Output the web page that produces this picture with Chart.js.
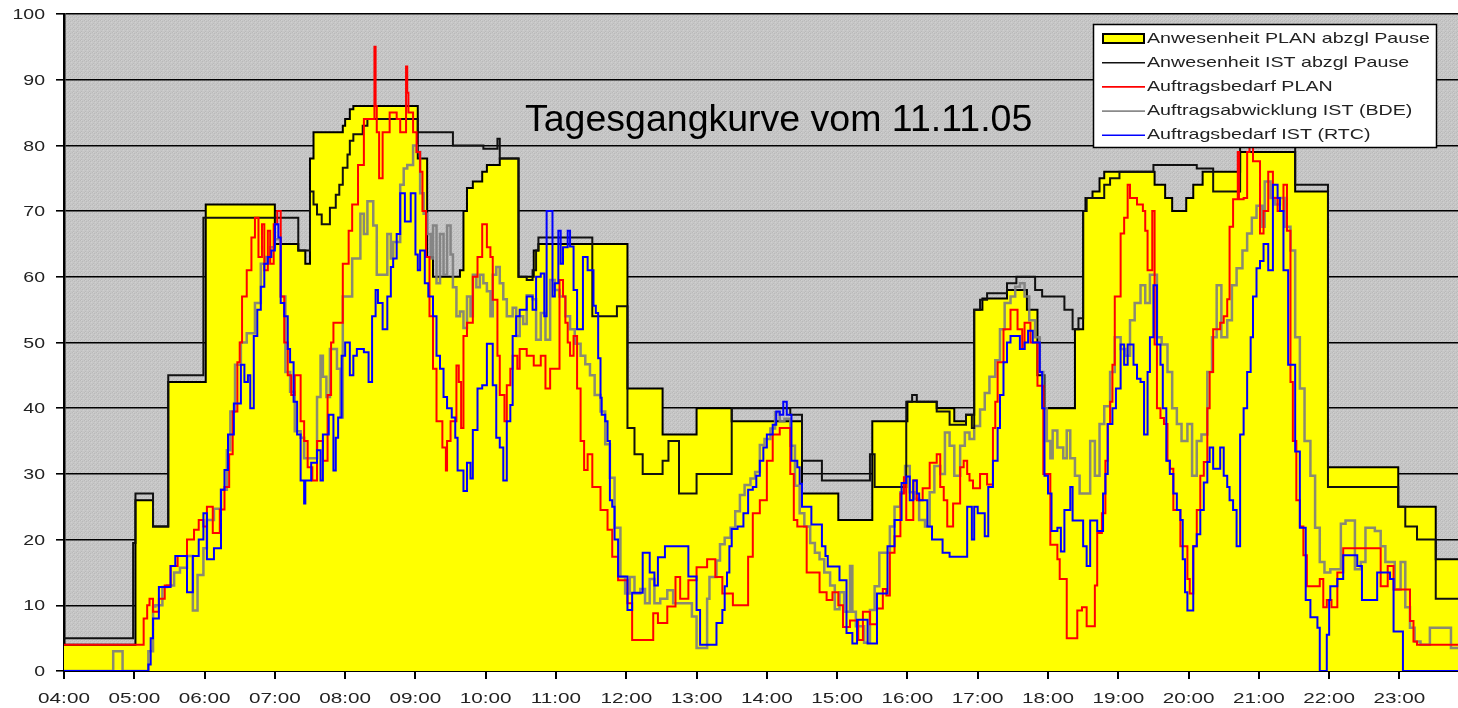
<!DOCTYPE html>
<html>
<head>
<meta charset="utf-8">
<title>Tagesgangkurve vom 11.11.05</title>
<script src="https://cdn.jsdelivr.net/npm/chart.js@4.4.1/dist/chart.umd.min.js"></script>
<style>
  html, body { margin: 0; padding: 0; background: #fff; }
  canvas { display: block; }
</style>
</head>
<body>
<canvas id="myChart" width="1458" height="708"></canvas>
<script>
// time values are minutes after midnight, values are persons
const hourLabels = ['04:00', '05:00', '06:00', '07:00', '08:00', '09:00', '10:00', '11:00', '12:00', '13:00',
    '14:00', '15:00', '16:00', '17:00', '18:00', '19:00', '20:00', '21:00', '22:00', '23:00'];
const valueLabels = ['0', '10', '20', '30', '40', '50', '60', '70', '80', '90', '100'];

const seriesNames = ['Anwesenheit PLAN abzgl Pause', 'Anwesenheit IST abzgl Pause', 'Auftragsbedarf PLAN',
    'Auftragsabwicklung IST (BDE)', 'Auftragsbedarf IST (RTC)'];

// Anwesenheit PLAN abzgl Pause (yellow area)
const planTime = [240, 301, 316, 329, 361, 420, 440, 446, 450, 453, 478, 480, 484, 487, 542, 550, 555, 578, 581, 584,
    589, 597, 601, 612, 628, 641, 645, 721, 751, 780, 810, 870, 901, 930, 960, 985, 1000, 1010, 1017, 1024,
    1045, 1062, 1071, 1077, 1103, 1110, 1112, 1118, 1124, 1128, 1171, 1180, 1186, 1198, 1204, 1212, 1244, 1291, 1319, 1379,
    1411, 1430];
const planVal = [4, 26, 22, 44, 71, 65, 64, 62, 78, 82, 83, 84, 85.5, 86, 78, 63, 60, 61, 70, 73.5,
    74.5, 76, 77, 78, 60, 64, 65, 43, 36, 40, 38, 27, 23, 38, 41, 40, 38, 39, 55, 56.7,
    58, 55, 45, 40, 52, 70, 72, 73, 75, 76, 74, 72, 70, 72, 74, 76, 79, 73, 31, 25,
    17, 17];

// Anwesenheit IST abzgl Pause (black)
const istTime = [240, 299, 301, 316, 329, 359, 440, 450, 453, 456, 460, 467, 472, 475, 478, 482, 484, 487, 495, 499,
    542, 572, 598, 610, 612, 628, 635, 640, 643, 645, 691, 712, 721, 727, 734, 751, 756, 765, 780, 810,
    860, 870, 887, 928, 932, 959, 964, 968, 985, 996, 1010, 1015, 1017, 1022, 1028, 1045, 1053, 1069, 1075, 1094,
    1101, 1106, 1110, 1113, 1128, 1133, 1141, 1170, 1207, 1221, 1244, 1291, 1319, 1379, 1385, 1395, 1411, 1430];
const istVal = [5, 19.5, 27, 22, 45, 69, 64, 73, 71, 69.5, 68, 70.5, 72.5, 74, 76.6, 78.6, 80.7, 81.7, 83, 84,
    82, 80, 79.5, 81, 78, 60, 59.5, 61, 64, 66, 54, 55.5, 37, 33, 30, 32, 35, 27, 30, 40,
    39, 32, 29, 33, 28, 41, 42, 41, 39.5, 37.5, 39, 37, 55, 56.5, 57.5, 59, 60, 58, 57, 55,
    52, 53.7, 70, 72, 74, 75, 76, 77, 76.5, 73, 80, 74, 28, 25, 22, 20, 11, 11];

// Auftragsbedarf PLAN (red)
const redTime = [240, 308, 311, 313, 316, 321, 326, 331, 337, 345,
    351, 355, 359, 362, 367, 373, 377, 381, 384, 388,
    390, 392, 396, 400, 403, 406, 409, 411, 414, 416,
    419, 422, 425, 428, 431, 434, 437, 442, 445, 448,
    452, 456, 461, 465, 468, 470, 478, 483, 486, 491,
    496, 505, 506, 507, 509, 512, 518, 524, 527, 532,
    533, 534, 538, 541, 544, 546, 549, 552, 555, 558,
    563, 566, 567, 570, 575, 577, 579, 581, 584, 589,
    593, 597, 601, 604, 606, 610, 612, 616, 618, 621,
    623, 627, 629, 635, 641, 647, 651, 655, 663, 666,
    668, 670, 672, 675, 678, 681, 684, 687, 691, 698,
    704, 708, 713, 721, 725, 743, 747, 755, 762, 766,
    773, 780, 789, 796, 802, 811, 824, 828, 834, 840,
    845, 851, 860, 863, 866, 874, 885, 891, 896, 901,
    905, 911, 918, 922, 928, 934, 939, 942, 945, 949,
    954, 957, 959, 965, 968, 973, 979, 985, 988, 991,
    994, 999, 1005, 1008, 1011, 1013, 1016, 1022, 1028, 1033,
    1035, 1037, 1042, 1048, 1054, 1058, 1060, 1065, 1071, 1076,
    1082, 1088, 1090, 1096, 1105, 1109, 1113, 1120, 1122, 1126,
    1129, 1131, 1133, 1135, 1137, 1142, 1145, 1148, 1150, 1156,
    1161, 1163, 1165, 1169, 1171, 1173, 1176, 1179, 1182, 1184,
    1187, 1193, 1199, 1201, 1204, 1207, 1210, 1213, 1216, 1218,
    1221, 1227, 1230, 1233, 1235, 1238, 1242, 1243, 1247, 1250,
    1252, 1255, 1261, 1264, 1268, 1272, 1276, 1281, 1284, 1287,
    1289, 1292, 1295, 1298, 1301, 1312, 1315, 1318, 1322, 1327,
    1332, 1364, 1370, 1375, 1389, 1392, 1395, 1430];
const redVal = [4, 8, 10, 11, 9, 11, 13, 16, 17.5, 20,
    21.5, 23, 22, 25, 21, 24.6, 28, 33, 39.5, 47,
    50, 57, 61, 66, 69, 63, 68, 61, 67, 62,
    68, 70, 57, 50, 45, 42, 45, 38, 35, 31,
    29, 35, 32, 42, 50, 53, 62, 67, 71, 77,
    84, 95, 86, 82, 75, 82, 85, 84, 82, 92,
    88, 85, 82, 79, 76, 70, 63, 54, 46, 38,
    34, 30.5, 35, 38, 46.5, 44, 37, 51, 53, 60,
    63, 68, 64.5, 63, 56.5, 48, 42, 38, 43.5, 46,
    48, 46, 49, 48, 46.5, 48, 43, 46, 59.5, 57,
    53, 50, 48, 51, 43, 35, 30.6, 33, 28, 24.5,
    21.5, 17.4, 13.8, 10.3, 4.7, 8.8, 7.3, 9.8, 14.3, 11,
    13.8, 15.8, 17, 14.3, 11.8, 10, 17.4, 24, 26, 32,
    36, 37, 30, 23, 22, 15, 12, 10.8, 12, 10,
    6.7, 7.7, 4.7, 9, 7.1, 9.5, 12.5, 11.5, 18, 20.5,
    27, 29.5, 23, 29, 26, 27.8, 31.7, 33, 28, 26,
    22, 25.5, 31, 32, 30, 29, 27.8, 30, 28.4, 37,
    41, 47, 52, 55, 52, 49, 53, 50, 43.4, 30,
    19.2, 17, 14, 5, 9.2, 9.7, 6.8, 13, 21, 24,
    32, 37.6, 41, 46.6, 57, 66.6, 69, 74, 72, 71,
    70, 67, 61, 70, 49.7, 40, 38.5, 37.6, 32, 30.8,
    24.5, 19, 14, 11.8, 19, 24.5, 29.7, 31.8, 40, 45.5,
    52, 53, 54, 56.6, 67.6, 71.8, 79, 71.8, 72, 79,
    82, 77.6, 66.6, 70, 76, 72, 70, 74, 67, 44,
    35, 26, 22, 17.6, 12.9, 14, 9.7, 10.8, 9.7, 15,
    18.7, 12.9, 16, 12.4, 7.6, 4.5, 4, 4];

// Auftragsabwicklung IST (BDE) (grey)
const bdeTime = [240, 282, 290, 312, 316, 318, 324, 328, 334, 339,
    345, 350, 354, 359, 362, 368, 374, 379, 382, 386,
    391, 396, 403, 408, 412, 416, 420, 425, 429, 433,
    437, 442, 445, 456, 459, 461, 464, 467, 473, 476,
    478, 486, 493, 496, 499, 504, 507, 516, 519, 521,
    527, 530, 533, 538, 541, 544, 547, 550, 553, 555,
    558, 561, 564, 567, 570, 572, 575, 578, 581, 584,
    587, 589, 592, 595, 598, 601, 604, 606, 609, 612,
    615, 618, 623, 626, 629, 632, 635, 640, 643, 647,
    651, 655, 659, 663, 668, 672, 676, 681, 685, 689,
    693, 698, 702, 706, 710, 715, 719, 723, 727, 732,
    736, 740, 744, 749, 755, 760, 776, 780, 789, 791,
    797, 800, 804, 809, 813, 817, 821, 826, 830, 834,
    838, 843, 847, 851, 855, 860, 864, 868, 872, 877,
    881, 885, 889, 894, 898, 902, 906, 911, 913, 916,
    923, 928, 932, 936, 945, 949, 954, 958, 962, 966,
    970, 975, 979, 983, 988, 992, 996, 1000, 1005, 1009,
    1013, 1017, 1022, 1026, 1030, 1035, 1039, 1043, 1048, 1052,
    1056, 1060, 1064, 1069, 1073, 1076, 1079, 1082, 1084, 1088,
    1093, 1096, 1099, 1103, 1107, 1116, 1120, 1124, 1128, 1133,
    1137, 1142, 1146, 1150, 1154, 1159, 1163, 1167, 1173, 1177,
    1182, 1186, 1190, 1194, 1199, 1203, 1207, 1211, 1216, 1220,
    1224, 1228, 1233, 1237, 1241, 1246, 1250, 1254, 1258, 1263,
    1265, 1270, 1274, 1278, 1282, 1287, 1291, 1295, 1299, 1304,
    1308, 1312, 1316, 1321, 1330, 1334, 1342, 1347, 1351, 1359,
    1364, 1368, 1376, 1381, 1385, 1389, 1393, 1398, 1406, 1424, 1430];
const bdeVal = [0, 3, 0, 3, 9.8, 10, 12.8, 13, 15, 15.7,
    17.5, 9.2, 14.6, 18.7, 23, 24.7, 27.6, 33.6, 39.5, 46.6,
    50, 51.4, 56, 62, 63, 64.5, 65.7, 57, 45.5, 42.5,
    36.5, 35.5, 32.4, 41.7, 48, 44.8, 41.7, 49, 46, 38.6,
    57, 62.8, 69.6, 66.5, 71.5, 67.8, 60.3, 66.5, 62.8, 65.3,
    74, 76.5, 77, 80, 79, 72.7, 69.6, 66.5, 62.8, 67.8,
    59, 66.5, 60.3, 67.8, 63.4, 58.4, 54, 54.7, 52.2, 57,
    54, 60.3, 58.4, 60.3, 59, 57.8, 54, 60.3, 61.5, 59,
    56.6, 54, 55.3, 51, 54, 52.8, 57.2, 56.6, 50.4, 54.5,
    50.4, 59.5, 58, 57, 54, 52, 49.8, 48, 46.7, 45,
    42, 39.5, 34.5, 29.4, 21.8, 14.3, 11.8, 14.3, 11.8, 12.5,
    10.3, 14, 10.3, 11, 12.3, 10.3, 8.3, 3.5, 11, 14.3,
    16.8, 19.3, 20.3, 21.8, 24.3, 26.8, 28.3, 29.3, 30.3, 34.4,
    35.3, 36.9, 39.4, 38, 38.4, 34.3, 28.2, 24, 22, 19.5,
    18, 17, 15, 13, 9.4, 12, 9, 16, 9, 6.8,
    4.3, 9.3, 12.9, 18, 22, 25, 27.2, 31.2, 27.2, 26.2,
    23, 22, 27.2, 31.2, 30, 36.3, 34.3, 29.7, 34.3, 36.3,
    35.3, 37.3, 39.8, 42.3, 44.8, 47.3, 52, 56, 57, 58.5,
    59, 57, 53.4, 50.8, 45.5, 40, 35, 32.4, 36.6, 34,
    32.4, 36.6, 32.4, 29.7, 27, 35, 29.7, 37.6, 40.3, 45.5,
    50.8, 49, 48, 53.4, 56, 58.7, 56, 60.3, 50.8, 49.7,
    45.5, 40, 37.6, 35, 37.6, 29.7, 35, 36, 45.5, 50.8,
    58.7, 50.8, 53.4, 58.7, 61.3, 64, 66.6, 69, 70.8, 67.6,
    74.5, 72, 71, 72, 67.6, 64, 50.8, 43, 35, 29.7,
    21.8, 16.6, 15, 15.5, 22.4, 22.9, 15.5, 16.6, 21.8, 21.3,
    19, 16.6, 12.4, 16.6, 9.7, 6.6, 4.5, 4, 6.6, 3.5, 3.5];

// Auftragsbedarf IST (RTC) (blue)
const rtcTime = [240, 312, 314, 316, 321, 331, 335, 345, 350, 355,
    359, 362, 368, 374, 377, 380, 385, 391, 394, 397,
    399, 402, 405, 408, 411, 414, 417, 420, 423, 425,
    428, 431, 433, 436, 439, 442, 445, 446, 451, 456,
    459, 461, 466, 470, 472, 474, 477, 480, 484, 487,
    490, 496, 500, 503, 506, 508, 512, 516, 519, 521,
    524, 527, 531, 536, 540, 542, 544, 548, 551, 555,
    558, 561, 564, 567, 571, 574, 576, 581, 584, 587,
    589, 593, 597, 601, 606, 609, 612, 615, 618, 621,
    623, 626, 629, 635, 640, 643, 647, 650, 652, 657,
    659, 662, 664, 666, 670, 672, 675, 678, 683, 687,
    692, 694, 696, 698, 699, 702, 704, 706, 708, 710,
    713, 721, 725, 734, 740, 744, 747, 753, 773, 780,
    783, 797, 802, 804, 806, 808, 810, 815, 820, 824,
    828, 831, 834, 837, 840, 845, 848, 851, 854, 857,
    861, 866, 868, 870, 878, 887, 890, 892, 902, 908,
    913, 917, 926, 934, 943, 949, 955, 959, 962, 965,
    968, 970, 977, 981, 990, 996, 1011, 1015, 1017, 1020,
    1026, 1029, 1033, 1037, 1039, 1042, 1045, 1048, 1056, 1060,
    1063, 1067, 1073, 1075, 1077, 1080, 1083, 1088, 1091, 1094,
    1099, 1101, 1110, 1113, 1116, 1122, 1127, 1129, 1131, 1135,
    1138, 1142, 1145, 1148, 1153, 1156, 1159, 1162, 1165, 1167,
    1170, 1173, 1176, 1178, 1181, 1184, 1187, 1190, 1193, 1195,
    1197, 1199, 1204, 1207, 1210, 1213, 1216, 1218, 1221, 1227,
    1230, 1233, 1235, 1238, 1241, 1244, 1247, 1250, 1253, 1255,
    1258, 1261, 1264, 1268, 1272, 1276, 1278, 1281, 1285, 1291,
    1295, 1300, 1304, 1310, 1312, 1318, 1320, 1321, 1327, 1332,
    1344, 1348, 1361, 1372, 1375, 1383, 1430];
const rtcVal = [0, 1, 5, 8, 12.8, 16, 17.5, 12, 17.5, 20,
    24, 17, 18.7, 27.6, 30.6, 36, 40.7, 46.6, 44, 45,
    40, 51, 55, 58.5, 62, 63, 64, 68, 66, 56,
    54, 49, 47, 41, 36, 29, 25.5, 29, 31.7, 33.6,
    29, 36, 39, 30.5, 35.5, 38.6, 48, 50, 45, 48,
    49, 48.5, 44, 54, 58, 56, 52, 57, 61.5, 62.8,
    66.5, 72.7, 68.4, 72.7, 63.4, 61, 64, 59, 57, 54,
    48, 46, 41.7, 40, 38.6, 35.5, 30.5, 27.4, 31.7, 29.3,
    36.7, 43, 43.5, 49.8, 43.5, 35.5, 34, 29, 38, 40.5,
    51, 54, 55, 57, 55, 60, 60.5, 54, 70, 57,
    59, 67, 62, 64.5, 67, 64.6, 58, 52, 63, 61,
    55.6, 54.5, 47.6, 41.6, 39, 38, 35, 26, 25, 20,
    14.4, 9.3, 11.9, 18, 15, 13, 17.3, 19, 14.4, 9.3,
    4, 7.3, 9.3, 12.9, 15, 19, 21.6, 22, 24, 27.6,
    28, 29.7, 32, 34, 36, 37.5, 39.5, 39, 41, 39,
    32, 31, 28.5, 25, 22.3, 19, 17.5, 15.9, 13.8, 5.8,
    4.2, 7.8, 4.2, 11.8, 19, 23, 28.6, 29.6, 26, 29,
    27, 26, 22, 20, 18, 17.4, 25, 20, 25, 24,
    20.5, 28, 32, 37, 42, 47, 50, 51, 49, 50,
    51.8, 50, 45.5, 40, 29.7, 27, 21.3, 21.8, 18.2, 24.5,
    28, 22.9, 19, 16, 22.9, 21.3, 27, 30, 37.6, 40,
    43, 49.7, 46.6, 49.7, 46.6, 44.5, 44, 36, 45.5, 50.8,
    58.7, 49.7, 46.6, 40, 32, 30, 27, 24.5, 23, 17,
    12, 9.2, 19, 20.8, 24.5, 28.7, 31.8, 34, 30.8, 34,
    29.7, 28, 26, 24.5, 19, 36, 40, 45.5, 50.8, 57,
    61.3, 62.4, 65, 61, 74, 72, 70, 61, 46.6, 33.4,
    21.8, 10.8, 8.2, 6.6, 0, 5.5, 10.8, 12.9, 14, 17.6,
    16, 10.8, 15, 14, 6, 0, 0];

function points(times, values) {
    if (times.length !== values.length) console.error('length mismatch', times.length, values.length);
    return times.map(function (t, i) { return { x: t, y: values[i] }; });
}

// grey dithered plot background
const tile = document.createElement('canvas');
tile.width = 4;
tile.height = 4;
const tctx = tile.getContext('2d');
tctx.fillStyle = '#c6c6c6';
tctx.fillRect(0, 0, 4, 4);
tctx.fillStyle = '#b9b9b9';
[[0, 0], [2, 1], [1, 3]].forEach(function (p) { tctx.fillRect(p[0], p[1], 1, 1); });
tctx.fillStyle = '#d0d0d0';
[[3, 2], [1, 0]].forEach(function (p) { tctx.fillRect(p[0], p[1], 1, 1); });

const chartDecor = {
    id: 'chartDecor',
    beforeDraw(chart) {
        const ctx = chart.ctx, a = chart.chartArea;
        ctx.save();
        ctx.fillStyle = ctx.createPattern(tile, 'repeat');
        ctx.fillRect(a.left, a.top, a.right - a.left, a.bottom - a.top);
        ctx.restore();
    },
    afterDraw(chart) {
        const ctx = chart.ctx, xs = chart.scales.x, ys = chart.scales.y;
        ctx.save();
        ctx.fillStyle = '#222';
        ctx.font = '15px "Liberation Sans", Arial, sans-serif';
        ctx.textBaseline = 'middle';

        // axis labels, a little wide like the original
        ctx.textAlign = 'center';
        hourLabels.forEach(function (lab, i) {
            ctx.save();
            ctx.translate(xs.getPixelForValue(240 + i * 60), 699);
            ctx.scale(1.38, 1);
            ctx.fillText(lab, 0, 0);
            ctx.restore();
        });
        ctx.textAlign = 'right';
        valueLabels.forEach(function (lab, i) {
            ctx.save();
            ctx.translate(45, ys.getPixelForValue(i * 10) + 1);
            ctx.scale(1.3, 1);
            ctx.fillText(lab, 0, 0);
            ctx.restore();
        });

        // title inside the plot
        ctx.fillStyle = '#000';
        ctx.textAlign = 'left';
        ctx.textBaseline = 'alphabetic';
        ctx.font = '37.5px "Liberation Sans", Arial, sans-serif';
        ctx.fillText('Tagesgangkurve vom 11.11.05', 525, 131);

        // legend box
        const bx = 1093.5, by = 24.5, bw = 343, bh = 123;
        ctx.fillStyle = '#fff';
        ctx.fillRect(bx, by, bw, bh);
        ctx.strokeStyle = '#000';
        ctx.lineWidth = 1.5;
        ctx.strokeRect(bx, by, bw, bh);
        ctx.font = '15px "Liberation Sans", Arial, sans-serif';
        ctx.textBaseline = 'middle';
        chart.data.datasets.forEach(function (ds, i) {
            const ry = 38.5 + i * 24.2;
            if (ds.fill) {
                ctx.fillStyle = ds.backgroundColor;
                ctx.fillRect(1103, ry - 4.5, 41, 9);
                ctx.lineWidth = 2;
                ctx.strokeStyle = '#000';
                ctx.strokeRect(1103, ry - 4.5, 41, 9);
            } else {
                ctx.strokeStyle = ds.borderColor;
                ctx.lineWidth = 1.6;
                ctx.beginPath();
                ctx.moveTo(1102, ry);
                ctx.lineTo(1145, ry);
                ctx.stroke();
            }
            ctx.save();
            ctx.fillStyle = '#222';
            ctx.translate(1147, ry);
            ctx.scale(1.31, 1);
            ctx.fillText(ds.label, 0, 0);
            ctx.restore();
        });
        ctx.restore();
    }
};

const ctx = document.getElementById('myChart').getContext('2d');
const chart = new Chart(ctx, {
    type: 'line',
    data: {
        datasets: [{
            label: seriesNames[0],
            data: points(planTime, planVal),
            stepped: true,
            fill: 'origin',
            backgroundColor: '#ffff00',
            borderColor: '#000',
            borderWidth: 2,
            order: 5
        }, {
            label: seriesNames[1],
            data: points(istTime, istVal),
            stepped: true,
            borderColor: '#111',
            borderWidth: 2,
            order: 3
        }, {
            label: seriesNames[2],
            data: points(redTime, redVal),
            stepped: true,
            borderColor: '#ff0000',
            borderWidth: 2,
            order: 2
        }, {
            label: seriesNames[3],
            data: points(bdeTime, bdeVal),
            stepped: true,
            borderColor: 'rgba(125,125,125,0.9)',
            borderWidth: 2.5,
            order: 4
        }, {
            label: seriesNames[4],
            data: points(rtcTime, rtcVal),
            stepped: true,
            borderColor: '#0000ff',
            borderWidth: 2,
            order: 1
        }]
    },
    options: {
        responsive: false,
        animation: false,
        events: [],
        layout: { padding: { top: 14, right: 0, bottom: 0, left: 0 } },
        elements: { point: { radius: 0 }, line: { tension: 0 } },
        plugins: {
            legend: { display: false },
            tooltip: { enabled: false }
        },
        scales: {
            x: {
                type: 'linear',
                min: 240,
                max: 1430,
                ticks: { display: false, stepSize: 60, includeBounds: false },
                grid: { drawOnChartArea: false, drawTicks: true, tickLength: 8, color: '#000', lineWidth: 2 },
                border: { color: '#000', width: 2 },
                afterFit: function (scale) { scale.height = 37; }
            },
            y: {
                min: 0,
                max: 100,
                ticks: { display: false, stepSize: 10 },
                grid: { color: '#000', lineWidth: 1.6, drawTicks: true, tickLength: 8 },
                border: { color: '#000', width: 2.5 },
                afterFit: function (scale) { scale.width = 64; }
            }
        }
    },
    plugins: [chartDecor]
});
</script>
</body>
</html>
